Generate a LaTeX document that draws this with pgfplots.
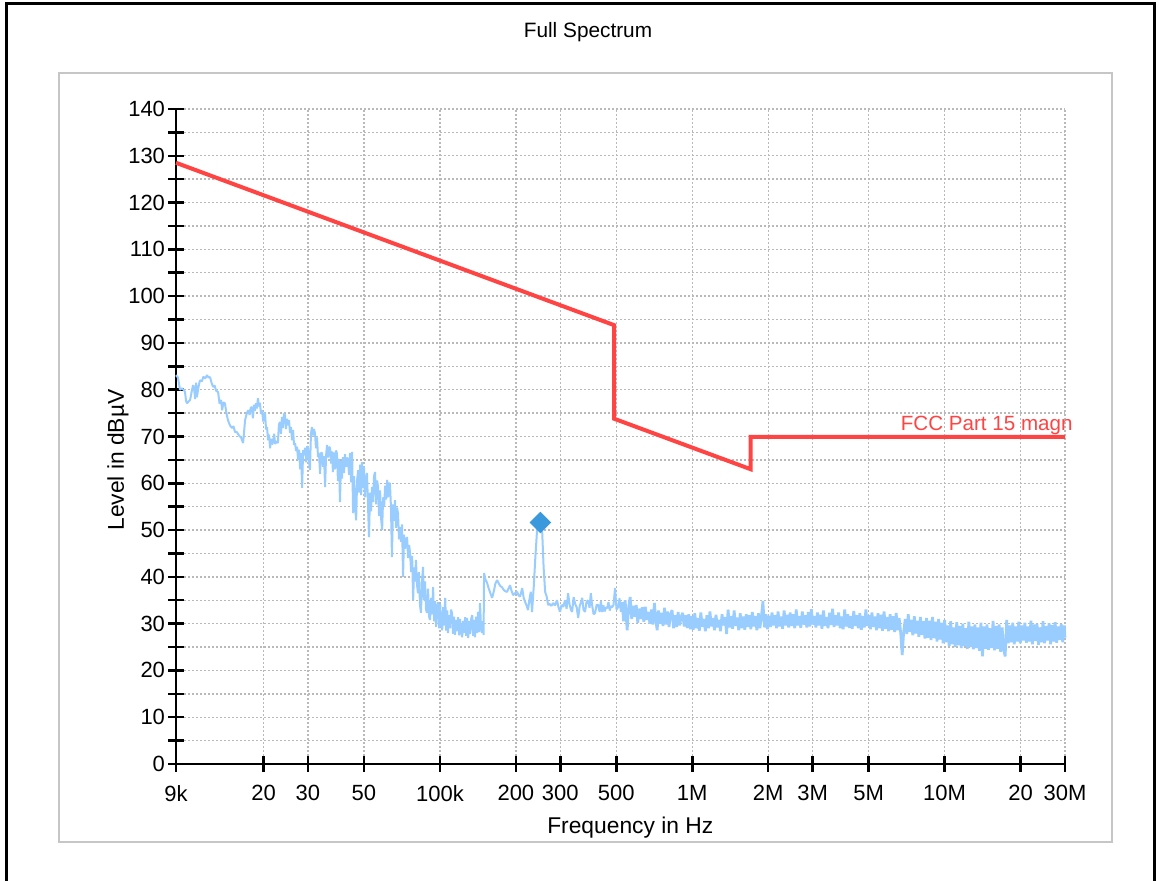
\documentclass[border=0pt]{standalone}
\usepackage{pgfplots}
\pgfplotsset{compat=1.18}
\usepackage{fontspec}
\setmainfont{Liberation Sans}
\definecolor{specblue}{HTML}{99CCFF}
\definecolor{limred}{HTML}{FF4444}
\definecolor{markblue}{HTML}{3A98DC}
\begin{document}
\begin{tikzpicture}
\useasboundingbox (0,0) rectangle (580pt,440.5pt);
\fill[white] (0,0) rectangle (580pt,440.5pt);
\draw[line width=1.5pt,black] (3pt,0) -- (3pt,438.5pt) -- (577pt,438.5pt) -- (577pt,0);
\draw[line width=0.9pt,gray!45] (29.5pt,19.5pt) rectangle (556pt,404pt);
\node[font=\fontsize{10.4}{12}\selectfont] at (294pt,424.5pt) {Full Spectrum};
\begin{axis}[
  at={(88pt,58.5pt)}, anchor=south west,
  scale only axis, width=444.5pt, height=327.5pt,
  xmode=log, xmin=9000, xmax=3e7, ymin=0, ymax=140,
  axis lines*=left,
  axis line style={line width=1.25pt,black},
  clip=false,
  xtick={9000,20000,30000,50000,1e5,2e5,3e5,5e5,1e6,2e6,3e6,5e6,1e7,2e7,3e7},
  xticklabels={9k,20,30,50,100k,200,300,500,1M,2M,3M,5M,10M,20,30M},
  xminorticks=false,
  ytick={0,10,...,140},
  minor ytick={5,15,...,135},
  xmajorgrids, ymajorgrids, yminorgrids,
  major grid style={gray!55,line width=0.7pt,dash pattern=on 1pt off 1pt},
  minor grid style={gray!55,line width=0.7pt,dash pattern=on 1pt off 1pt},
  tick align=center,
  major tick length=8pt, minor tick length=8pt,
  tick style={black,line width=1.25pt},
  /pgf/number format/assume math mode=true,
  ticklabel style={font=\fontsize{11}{13}\selectfont},
  xticklabel style={yshift=-3pt},
  yticklabel style={xshift=2pt},
  xlabel={Frequency in Hz},
  ylabel={Level in dB\textmu V},
  every axis x label/.style={at={(axis description cs:0.511,0)},anchor=center,yshift=-32pt,font=\fontsize{11.4}{13}\selectfont},
  every axis y label/.style={at={(axis description cs:-0.0652,0.464)},anchor=center,rotate=90,font=\fontsize{11.4}{13}\selectfont},
]
\addplot[specblue,line width=1pt,line join=bevel] table[row sep=\\, x expr={10^(\thisrow{lf})}, y=v] {
lf v\\
3.954 83.1\\ 3.962 82.6\\ 3.970 80.0\\ 3.978 80.3\\ 3.986 79.9\\ 3.990 79.5\\ 3.994 77.6\\ 3.998 77.1\\
4.004 77.5\\ 4.010 77.8\\ 4.016 79.5\\ 4.022 81.0\\ 4.026 80.2\\ 4.030 78.0\\ 4.034 81.5\\ 4.037 78.4\\
4.043 80.5\\ 4.049 82.0\\ 4.057 81.8\\ 4.063 82.8\\ 4.070 82.4\\ 4.077 83.1\\ 4.083 82.6\\ 4.089 82.7\\
4.095 81.5\\ 4.101 80.6\\ 4.107 80.9\\ 4.113 79.8\\ 4.121 79.5\\ 4.127 77.0\\ 4.133 77.8\\ 4.137 75.6\\
4.142 77.3\\ 4.148 77.1\\ 4.154 75.0\\ 4.160 73.5\\ 4.168 72.4\\ 4.176 71.8\\ 4.182 72.2\\ 4.188 71.0\\
4.196 70.9\\ 4.204 70.2\\ 4.212 69.8\\ 4.220 68.6\\ 4.224 71.0\\ 4.228 73.5\\ 4.234 74.8\\ 4.240 75.6\\
4.246 74.6\\ 4.250 76.1\\ 4.255 76.3\\ 4.259 73.9\\ 4.263 76.8\\ 4.267 75.5\\ 4.271 77.1\\ 4.275 76.0\\
4.279 78.2\\ 4.283 76.4\\ 4.287 77.2\\ 4.291 74.8\\ 4.295 75.6\\ 4.300 73.2\\ 4.303 74.9\\ 4.307 75.0\\
4.311 71.5\\ 4.315 72.0\\ 4.319 69.2\\ 4.323 70.4\\ 4.327 67.5\\ 4.331 69.5\\ 4.335 68.3\\ 4.339 68.8\\
4.343 70.6\\ 4.347 68.4\\ 4.352 69.0\\ 4.358 68.6\\ 4.362 72.5\\ 4.366 73.1\\ 4.370 70.5\\ 4.374 74.2\\
4.378 71.8\\ 4.382 74.9\\ 4.386 74.6\\ 4.390 71.6\\ 4.394 73.8\\ 4.398 72.4\\ 4.402 73.5\\ 4.406 70.8\\
4.410 72.0\\ 4.414 69.2\\ 4.418 71.4\\ 4.422 68.2\\ 4.426 68.6\\ 4.430 66.9\\ 4.434 67.8\\ 4.438 65.0\\
4.442 67.2\\ 4.446 63.0\\ 4.450 66.5\\ 4.454 59.0\\ 4.458 67.1\\ 4.462 66.0\\ 4.466 67.6\\ 4.470 64.5\\
4.474 67.9\\ 4.477 67.7\\ 4.481 65.0\\ 4.485 62.8\\ 4.489 70.6\\ 4.493 72.0\\ 4.497 70.2\\ 4.501 71.6\\
4.505 70.7\\ 4.509 67.5\\ 4.513 69.8\\ 4.517 65.6\\ 4.521 66.4\\ 4.525 62.0\\ 4.529 66.5\\ 4.533 66.5\\
4.537 63.5\\ 4.541 65.8\\ 4.545 59.2\\ 4.549 66.0\\ 4.553 68.2\\ 4.557 65.5\\ 4.561 67.8\\ 4.565 67.5\\
4.569 64.2\\ 4.573 66.8\\ 4.576 62.4\\ 4.580 66.6\\ 4.584 63.0\\ 4.588 67.0\\ 4.592 66.4\\ 4.596 60.5\\
4.600 65.2\\ 4.604 56.0\\ 4.608 64.8\\ 4.612 61.0\\ 4.616 65.6\\ 4.620 62.2\\ 4.624 66.2\\ 4.628 63.5\\
4.632 65.5\\ 4.636 65.0\\ 4.640 61.8\\ 4.644 66.5\\ 4.648 60.2\\ 4.652 66.7\\ 4.656 53.6\\ 4.660 61.5\\
4.664 55.0\\ 4.668 52.1\\ 4.672 60.8\\ 4.676 62.8\\ 4.680 58.0\\ 4.684 64.0\\ 4.688 57.5\\ 4.691 64.5\\
4.695 59.0\\ 4.699 63.6\\ 4.703 57.0\\ 4.707 61.0\\ 4.711 62.2\\ 4.715 55.5\\ 4.719 48.5\\ 4.723 58.0\\
4.727 54.0\\ 4.731 59.2\\ 4.735 56.0\\ 4.739 61.5\\ 4.743 62.4\\ 4.747 55.5\\ 4.751 60.6\\ 4.755 59.2\\
4.759 53.0\\ 4.763 58.5\\ 4.767 52.5\\ 4.771 50.0\\ 4.775 57.0\\ 4.779 55.0\\ 4.783 59.5\\ 4.787 56.5\\
4.791 60.7\\ 4.795 57.0\\ 4.798 60.0\\ 4.802 60.0\\ 4.806 55.0\\ 4.810 44.2\\ 4.814 55.5\\ 4.818 52.0\\
4.822 56.4\\ 4.826 50.5\\ 4.830 54.8\\ 4.834 53.6\\ 4.838 48.0\\ 4.842 50.6\\ 4.846 47.5\\ 4.850 51.2\\
4.854 40.0\\ 4.858 49.0\\ 4.862 46.0\\ 4.866 47.8\\ 4.870 48.5\\ 4.874 44.0\\ 4.878 46.8\\ 4.882 45.0\\
4.886 41.0\\ 4.890 44.5\\ 4.894 35.0\\ 4.898 42.0\\ 4.902 39.0\\ 4.905 43.6\\ 4.909 38.5\\ 4.913 36.5\\
4.917 41.0\\ 4.921 34.0\\ 4.925 32.3\\ 4.929 38.8\\ 4.933 42.1\\ 4.937 35.0\\ 4.941 39.0\\ 4.945 33.0\\
4.949 32.3\\ 4.953 37.5\\ 4.957 31.5\\ 4.961 30.8\\ 4.965 35.5\\ 4.969 32.0\\ 4.973 37.8\\ 4.977 30.5\\
4.981 34.8\\ 4.985 29.3\\ 4.989 33.8\\ 4.993 34.6\\ 4.997 29.0\\ 5.001 34.2\\ 5.005 30.0\\ 5.009 28.6\\
5.013 33.5\\ 5.017 29.6\\ 5.021 35.5\\ 5.025 28.5\\ 5.029 32.8\\ 5.032 28.0\\ 5.036 31.8\\ 5.040 29.0\\
5.044 33.0\\ 5.048 32.3\\ 5.052 27.8\\ 5.056 31.5\\ 5.060 27.6\\ 5.064 30.8\\ 5.068 28.4\\ 5.072 31.4\\
5.076 27.5\\ 5.080 31.0\\ 5.084 28.2\\ 5.088 27.1\\ 5.092 30.6\\ 5.096 28.0\\ 5.100 31.4\\ 5.104 27.4\\
5.108 31.2\\ 5.112 26.9\\ 5.116 30.5\\ 5.120 27.8\\ 5.124 31.0\\ 5.128 31.8\\ 5.132 27.4\\ 5.136 30.8\\
5.139 27.1\\ 5.143 31.5\\ 5.147 28.0\\ 5.151 32.5\\ 5.155 28.2\\ 5.159 34.4\\ 5.163 29.0\\ 5.167 28.0\\
5.171 30.5\\ 5.173 27.6\\ 5.175 40.8\\
5.180 39.5\\ 5.187 38.7\\ 5.193 37.6\\ 5.200 36.5\\ 5.207 35.5\\ 5.214 37.0\\ 5.220 38.6\\ 5.227 39.3\\
5.234 38.5\\ 5.240 38.0\\ 5.246 37.8\\ 5.253 37.2\\ 5.260 36.9\\ 5.266 36.8\\ 5.272 37.5\\ 5.278 38.2\\
5.284 37.0\\ 5.290 36.1\\ 5.298 36.5\\ 5.306 36.8\\ 5.312 36.0\\ 5.318 35.8\\ 5.326 37.6\\ 5.332 35.5\\
5.338 34.6\\ 5.344 33.8\\ 5.349 32.9\\ 5.355 35.2\\ 5.360 36.8\\ 5.365 32.5\\ 5.372 38.0\\ 5.378 44.0\\
5.385 50.0\\ 5.393 51.5\\ 5.400 51.2\\ 5.405 50.0\\ 5.411 42.0\\ 5.417 36.8\\ 5.423 35.8\\ 5.429 34.0\\
5.435 34.2\\ 5.442 33.8\\ 5.449 34.4\\ 5.456 33.9\\ 5.464 35.0\\ 5.470 33.5\\ 5.476 32.5\\ 5.482 34.0\\
5.489 33.6\\ 5.496 35.0\\ 5.502 33.2\\ 5.508 36.5\\ 5.514 34.0\\ 5.520 32.9\\ 5.524 32.5\\ 5.530 35.7\\
5.536 34.2\\ 5.542 33.5\\ 5.548 31.2\\ 5.554 33.8\\ 5.559 34.5\\ 5.564 35.5\\ 5.569 33.0\\ 5.575 32.5\\
5.581 34.6\\ 5.587 35.0\\ 5.593 33.4\\ 5.598 36.5\\ 5.603 34.0\\ 5.609 32.0\\ 5.615 32.3\\ 5.621 34.0\\
5.627 34.0\\ 5.633 32.5\\ 5.638 34.8\\ 5.643 32.5\\ 5.648 33.9\\ 5.653 32.6\\ 5.658 33.5\\ 5.663 33.3\\
5.668 34.6\\ 5.673 32.8\\ 5.678 33.8\\ 5.682 33.5\\ 5.688 34.0\\ 5.694 37.6\\ 5.700 33.0\\ 5.706 33.5\\
5.712 35.4\\ 5.717 32.5\\ 5.722 34.6\\
};
\addplot[specblue,line width=1.35pt,line join=bevel] table[row sep=\\, x expr={10^(\thisrow{lf})}, y=v] {
lf v\\
5.722 34.6\\
5.728 30.5\\ 5.734 35.0\\ 5.742 28.6\\ 5.748 33.5\\ 5.754 35.7\\ 5.760 31.0\\ 5.766 33.8\\ 5.772 31.5\\
5.778 34.0\\ 5.784 30.2\\ 5.790 33.2\\ 5.796 31.0\\ 5.802 33.5\\ 5.808 30.4\\ 5.814 33.6\\ 5.820 30.8\\
5.826 32.5\\ 5.832 30.0\\ 5.838 33.0\\ 5.844 29.8\\ 5.850 34.4\\ 5.856 30.6\\ 5.861 28.6\\ 5.866 32.8\\
5.872 30.0\\ 5.878 32.3\\ 5.884 29.5\\ 5.890 33.4\\ 5.896 29.8\\ 5.902 32.6\\ 5.908 29.3\\ 5.914 32.0\\
5.920 32.9\\ 5.926 29.0\\ 5.932 31.8\\ 5.938 29.3\\ 5.944 32.5\\ 5.950 29.6\\ 5.956 31.5\\ 5.962 32.3\\
5.968 29.4\\ 5.974 31.8\\ 5.980 29.1\\ 5.986 32.0\\ 5.992 28.8\\ 5.998 31.6\\ 6.004 28.7\\ 6.010 32.2\\
6.016 29.0\\ 6.022 31.2\\ 6.028 28.5\\ 6.034 32.4\\ 6.040 29.3\\ 6.046 31.0\\ 6.052 28.4\\ 6.058 31.8\\
6.064 29.0\\ 6.070 32.6\\ 6.076 29.4\\ 6.082 31.2\\ 6.088 28.6\\ 6.094 31.9\\ 6.100 29.2\\ 6.106 30.8\\
6.112 28.4\\ 6.118 32.0\\ 6.124 29.6\\ 6.130 31.4\\ 6.136 27.8\\ 6.142 33.0\\ 6.148 29.2\\ 6.154 31.6\\
6.160 28.9\\ 6.166 32.8\\ 6.172 29.5\\ 6.178 31.3\\ 6.184 28.6\\ 6.190 32.2\\ 6.196 29.0\\ 6.202 31.5\\
6.208 28.7\\ 6.214 32.0\\ 6.220 29.3\\ 6.226 31.8\\ 6.232 28.8\\ 6.238 32.5\\ 6.244 29.4\\ 6.250 31.6\\
6.256 28.6\\ 6.262 32.2\\ 6.268 29.0\\ 6.274 31.5\\ 6.280 34.8\\ 6.286 29.2\\ 6.292 32.0\\ 6.298 28.8\\
6.304 31.7\\ 6.310 29.3\\ 6.316 32.4\\ 6.322 29.6\\ 6.328 31.8\\ 6.334 29.0\\ 6.340 32.6\\ 6.346 29.4\\
6.352 31.5\\ 6.358 28.9\\ 6.364 32.8\\ 6.370 29.6\\ 6.376 31.9\\ 6.382 29.2\\ 6.388 32.4\\ 6.394 29.5\\
6.400 32.0\\ 6.406 29.0\\ 6.412 33.0\\ 6.418 29.6\\ 6.424 31.6\\ 6.430 29.1\\ 6.436 32.6\\ 6.442 29.8\\
6.448 31.8\\ 6.454 29.2\\ 6.460 32.5\\ 6.466 29.4\\ 6.472 33.1\\ 6.478 29.8\\ 6.484 31.6\\ 6.490 29.2\\
6.496 32.4\\ 6.502 29.6\\ 6.508 31.9\\ 6.514 28.9\\ 6.520 32.8\\ 6.526 29.5\\ 6.532 31.4\\ 6.538 29.0\\
6.544 32.3\\ 6.550 29.7\\ 6.556 33.2\\ 6.562 29.3\\ 6.568 31.8\\ 6.574 29.6\\ 6.580 32.4\\ 6.586 29.0\\
6.592 31.5\\ 6.598 28.8\\ 6.604 33.0\\ 6.610 29.4\\ 6.616 32.0\\ 6.622 29.1\\ 6.628 31.6\\ 6.634 28.9\\
6.640 32.7\\ 6.646 29.5\\ 6.652 31.8\\ 6.658 29.0\\ 6.664 32.2\\ 6.670 28.7\\ 6.676 31.6\\ 6.682 29.2\\
6.688 33.0\\ 6.694 29.5\\ 6.700 31.8\\ 6.706 28.8\\ 6.712 32.4\\ 6.718 29.3\\ 6.724 31.5\\ 6.730 28.6\\
6.736 32.2\\ 6.742 29.0\\ 6.748 31.9\\ 6.754 28.5\\ 6.760 32.6\\ 6.766 28.9\\ 6.772 31.4\\ 6.778 28.4\\
6.784 32.0\\ 6.790 28.7\\ 6.796 31.6\\ 6.802 28.2\\ 6.808 32.3\\ 6.814 28.6\\ 6.820 31.2\\ 6.826 28.0\\
6.832 23.3\\ 6.838 28.4\\ 6.844 31.0\\ 6.850 27.8\\ 6.856 32.0\\ 6.862 28.2\\ 6.868 30.8\\ 6.874 27.5\\
6.880 31.6\\ 6.886 27.9\\ 6.892 30.6\\ 6.898 27.2\\ 6.904 31.4\\ 6.910 27.6\\ 6.916 30.5\\ 6.922 26.8\\
6.928 31.2\\ 6.934 27.0\\ 6.940 30.6\\ 6.946 26.5\\ 6.952 31.4\\ 6.958 26.9\\ 6.964 30.4\\ 6.970 26.2\\
6.976 31.0\\ 6.982 26.6\\ 6.988 30.2\\ 6.994 25.8\\ 7.000 30.8\\ 7.006 26.0\\ 7.012 29.6\\ 7.018 25.2\\
7.024 30.5\\ 7.030 25.6\\ 7.036 29.2\\ 7.042 25.0\\ 7.048 30.3\\ 7.054 25.4\\ 7.060 29.5\\ 7.066 24.8\\
7.072 30.0\\ 7.078 25.2\\ 7.084 29.0\\ 7.090 24.6\\ 7.096 30.4\\ 7.102 25.0\\ 7.108 29.4\\ 7.114 24.5\\
7.120 29.8\\ 7.126 24.8\\ 7.132 29.2\\ 7.138 24.2\\ 7.144 30.2\\ 7.150 23.0\\ 7.156 29.4\\ 7.162 24.6\\
7.168 29.8\\ 7.174 24.4\\ 7.180 29.0\\ 7.186 24.8\\ 7.192 30.6\\ 7.198 24.3\\ 7.204 29.5\\ 7.210 24.6\\
7.216 29.8\\ 7.222 24.0\\ 7.228 29.2\\ 7.234 24.5\\ 7.240 23.0\\ 7.246 30.8\\ 7.252 25.8\\ 7.258 29.6\\
7.264 26.0\\ 7.270 30.2\\ 7.276 25.6\\ 7.282 29.4\\ 7.288 26.2\\ 7.294 30.4\\ 7.300 25.8\\ 7.306 29.6\\
7.312 26.4\\ 7.318 30.2\\ 7.324 25.9\\ 7.330 29.4\\ 7.336 26.2\\ 7.342 30.6\\ 7.348 25.6\\ 7.354 29.8\\
7.360 26.3\\ 7.366 30.0\\ 7.372 25.5\\ 7.378 29.2\\ 7.384 26.0\\ 7.390 30.5\\ 7.396 25.8\\ 7.402 29.5\\
7.408 26.4\\ 7.414 30.1\\ 7.420 25.6\\ 7.426 29.7\\ 7.432 26.2\\ 7.438 30.3\\ 7.444 25.9\\ 7.450 29.4\\
7.456 26.5\\ 7.462 29.9\\ 7.468 26.0\\ 7.474 29.6\\ 7.477 27.0\\
};
\addplot[limred,line width=2pt] coordinates {
(9000,128.5) (490000,93.8) (490000,73.8) (1705000,63.0) (1705000,69.9) (3e7,69.9)
};
\addplot[only marks,mark=square*,mark size=3.6pt,mark options={rotate=45,fill=markblue,draw=markblue}] coordinates {(250000,51.6)};
\node[limred,font=\fontsize{10.3}{12}\selectfont,anchor=base east,inner sep=0pt,xshift=4pt,yshift=3pt] at (axis cs:3e7,69.9) {FCC Part 15 magn};
\end{axis}
\end{tikzpicture}
\end{document}
